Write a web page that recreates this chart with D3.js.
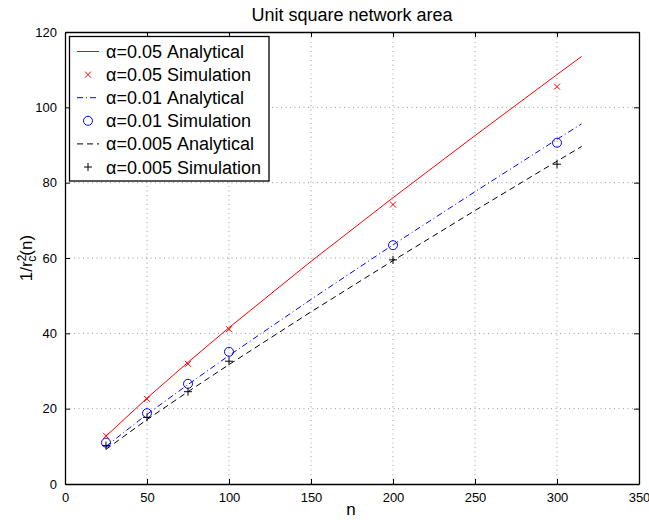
<!DOCTYPE html>
<html>
<head>
<meta charset="utf-8">
<script src="https://cdn.jsdelivr.net/npm/d3@7"></script>
<style>
  body { margin: 0; background: #fff; }
  svg { font-family: "Liberation Sans", Arial, Helvetica, sans-serif; }
</style>
</head>
<body>
<div id="chart"></div>
<script>
// values
const nAnalytical = [25, 50, 75, 100, 150, 200, 250, 300, 315];
const analytical05 = [12.7, 22.8, 32.3, 41.5, 59.1, 76.0, 92.5, 108.7, 113.5];
const analytical01 = [10.0, 18.5, 26.4, 34.1, 49.0, 63.5, 77.6, 91.5, 95.6];
const analytical005 = [9.2, 17.1, 24.5, 31.7, 45.7, 59.3, 72.6, 85.7, 89.6];

const nSim = [25, 50, 75, 100, 200, 300];
const sim05 = [12.8, 22.6, 31.9, 41.1, 74.2, 105.5];
const sim01 = [11.0, 18.8, 26.6, 35.1, 63.4, 90.6];
const sim005 = [10.2, 17.7, 24.5, 32.6, 59.5, 84.9];

const xTicks = [0, 50, 100, 150, 200, 250, 300, 350];
const yTicks = [0, 20, 40, 60, 80, 100, 120];

const legendLabels = [
  'α=0.05 Analytical', 'α=0.05 Simulation',
  'α=0.01 Analytical', 'α=0.01 Simulation',
  'α=0.005 Analytical', 'α=0.005 Simulation'
];

const width = 649, height = 520;
const margin = { top: 32, left: 65, right: 10, bottom: 36 };

const svg = d3.select('#chart').append('svg')
  .attr('width', width)
  .attr('height', height);

const x = d3.scaleLinear().domain([0, 350]).range([margin.left, width - margin.right]);
const y = d3.scaleLinear().domain([0, 120]).range([height - margin.bottom, margin.top]);

// grid
svg.append('g').selectAll('line')
  .data(xTicks.slice(1, -1))
  .enter().append('line')
  .attr('x1', d => x(d)).attr('x2', d => x(d))
  .attr('y1', y(0)).attr('y2', y(120))
  .attr('stroke', '#999').attr('stroke-dasharray', '1,3.5');

svg.append('g').selectAll('line')
  .data(yTicks.slice(1, -1))
  .enter().append('line')
  .attr('x1', x(0)).attr('x2', x(350))
  .attr('y1', d => y(d)).attr('y2', d => y(d))
  .attr('stroke', '#999').attr('stroke-dasharray', '1,3.5');

// axes (ticks inside, on all four sides)
const tickLen = 5;
const xAxis = d3.axisBottom(x).tickValues(xTicks).tickSizeInner(-tickLen).tickSizeOuter(0).tickPadding(9);
const yAxis = d3.axisLeft(y).tickValues(yTicks).tickSizeInner(-tickLen).tickSizeOuter(0).tickPadding(8);

svg.append('g').attr('class', 'axis')
  .attr('transform', 'translate(0,' + y(0) + ')')
  .call(xAxis);
svg.append('g').attr('class', 'axis')
  .attr('transform', 'translate(' + x(0) + ',0)')
  .call(yAxis);
svg.append('g').attr('class', 'axis')
  .attr('transform', 'translate(0,' + y(120) + ')')
  .call(d3.axisTop(x).tickValues(xTicks).tickSizeInner(-tickLen).tickSizeOuter(0).tickFormat(''));
svg.append('g').attr('class', 'axis')
  .attr('transform', 'translate(' + x(350) + ',0)')
  .call(d3.axisRight(y).tickValues(yTicks).tickSizeInner(-tickLen).tickSizeOuter(0).tickFormat(''));

svg.selectAll('.axis path').attr('stroke', '#000').attr('stroke-width', 1.3);
svg.selectAll('.axis line').attr('stroke', '#000');
svg.selectAll('.axis text')
  .attr('font-size', 13)
  .attr('font-family', '"Liberation Sans", Arial, sans-serif')
  .attr('fill', '#000');

// series
const series = [
  { ya: analytical05, ys: sim05, color: '#ff0000', dash: null, marker: 'x' },
  { ya: analytical01, ys: sim01, color: '#0000ff', dash: '6,3,1,3', marker: 'o' },
  { ya: analytical005, ys: sim005, color: '#000000', dash: '6,4', marker: '+' }
];

const line = d3.line()
  .x(d => x(d[0]))
  .y(d => y(d[1]));

function drawMarker(g, type, cx, cy, color) {
  if (type === 'x') {
    const s = 3;
    g.append('path')
      .attr('d', `M${cx - s},${cy - s}L${cx + s},${cy + s}M${cx - s},${cy + s}L${cx + s},${cy - s}`)
      .attr('stroke', color).attr('stroke-width', 1).attr('fill', 'none');
  } else if (type === 'o') {
    g.append('circle')
      .attr('cx', cx).attr('cy', cy).attr('r', 4.5)
      .attr('stroke', color).attr('stroke-width', 1).attr('fill', 'none');
  } else {
    const s = 4;
    g.append('path')
      .attr('d', `M${cx - s},${cy}L${cx + s},${cy}M${cx},${cy - s}L${cx},${cy + s}`)
      .attr('stroke', color).attr('stroke-width', 1).attr('fill', 'none');
  }
}

const plot = svg.append('g');
series.forEach(s => {
  plot.append('path')
    .datum(nAnalytical.map((n, i) => [n, s.ya[i]]))
    .attr('d', line)
    .attr('fill', 'none')
    .attr('stroke', s.color)
    .attr('stroke-width', 1)
    .attr('stroke-dasharray', s.dash);
  nSim.forEach((n, i) => drawMarker(plot, s.marker, x(n), y(s.ys[i]), s.color));
});

// legend
const legend = svg.append('g');
legend.append('rect')
  .attr('x', 69.5).attr('y', 36.5)
  .attr('width', 199.5).attr('height', 144.5)
  .attr('fill', '#fff').attr('stroke', '#000').attr('stroke-width', 1.3);

legendLabels.forEach((label, i) => {
  const s = series[Math.floor(i / 2)];
  const ly = 51.5 + i * 23.1;
  if (i % 2 === 0) {
    legend.append('line')
      .attr('x1', 77).attr('x2', 99)
      .attr('y1', ly).attr('y2', ly)
      .attr('stroke', s.color).attr('stroke-width', 1)
      .attr('stroke-dasharray', s.dash);
  } else {
    drawMarker(legend, s.marker, 88, ly, s.color);
  }
  legend.append('text')
    .attr('x', 106).attr('y', ly + 6.5)
    .attr('font-size', 18)
    .text(label);
});

// title and labels
svg.append('text')
  .attr('x', (x(0) + x(350)) / 2).attr('y', 21)
  .attr('text-anchor', 'middle')
  .attr('font-size', 18)
  .text('Unit square network area');

svg.append('text')
  .attr('x', (x(0) + x(350)) / 2 - 1).attr('y', 515)
  .attr('text-anchor', 'middle')
  .attr('font-size', 17)
  .text('n');

const yl = svg.append('text')
  .attr('transform', 'translate(32,' + ((y(0) + y(120)) / 2) + ') rotate(-90)')
  .attr('text-anchor', 'middle')
  .attr('font-size', 17);
yl.append('tspan').text('1/r');
yl.append('tspan').attr('font-size', 12).attr('dy', -6).text('2');
yl.append('tspan').attr('font-size', 12).attr('dx', -7).attr('dy', 10).text('c');
yl.append('tspan').attr('dy', -4).text('(n)');
</script>
</body>
</html>
